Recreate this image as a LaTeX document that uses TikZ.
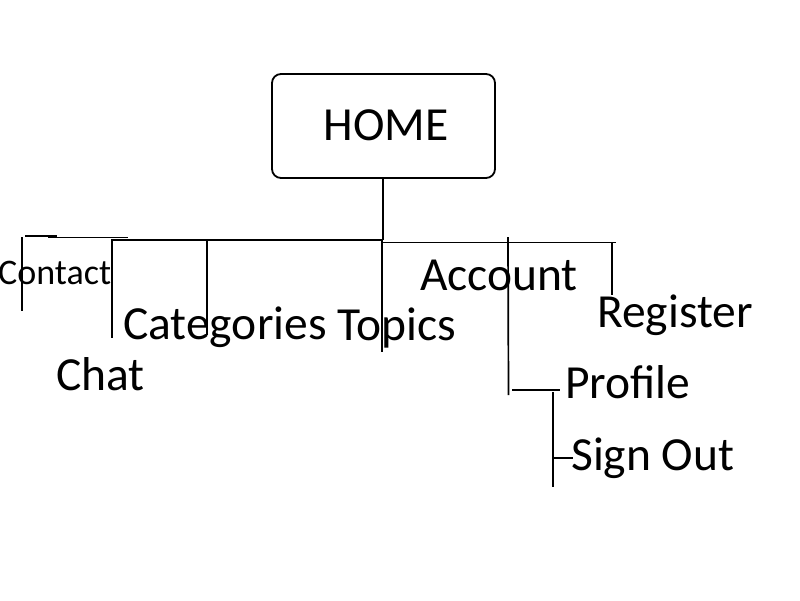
\documentclass[tikz,border=0pt]{standalone}
\usepackage{fontspec}
\setmainfont{Carlito}
\begin{document}
\begin{tikzpicture}[x=1pt,y=-1pt,
  ln/.style={line width=1.7pt,black},
  lbl/.style={anchor=base west,inner sep=0pt,font=\fontsize{47.5}{54}\selectfont},
  homebox/.style={draw,line width=1.8pt,rounded corners=9pt,minimum width=223pt,minimum height=104pt,inner sep=0pt}]
\useasboundingbox[fill=white] (0,0) rectangle (800,600);
% HOME
\node[homebox] (home) at (383.5,126) {};
\node[anchor=base,inner sep=0pt,font=\fontsize{47.5}{54}\selectfont] (hometxt) at (386,140) {HOME};
% labels
\node[lbl,font=\fontsize{36}{42}\selectfont] (contact) at (-2,284) {Contact};
\node[lbl] (chat) at (56,390) {Chat};
\node[lbl] (cat) at (123,339) {Categories};
\node[lbl] (topics) at (337,340) {Topics};
\node[lbl] (account) at (420,290) {Account};
\node[lbl] (register) at (597,327) {Register};
\node[lbl] (profile) at (565,398) {Profile};
\node[lbl] (signout) at (571,470) {Sign Out};
% junction coordinates
\coordinate (hb) at (383,178);
\coordinate (hj) at (383,240);
\coordinate (bl) at (112,240);
\coordinate (br) at (616,242.5);
\coordinate (hjr) at (383,242.5);
\coordinate (t1a) at (25,236);
\coordinate (t1b) at (57,236);
\coordinate (t2a) at (48,237.5);
\coordinate (t2b) at (128,237.5);
\coordinate (cta) at (22,237);
\coordinate (ctb) at (22,311);
\coordinate (cha) at (112,239);
\coordinate (chb) at (112,338);
\coordinate (caa) at (207,241);
\coordinate (cab) at (207,335);
\coordinate (toa) at (382,240);
\coordinate (tob) at (382,352);
\coordinate (aca) at (508,237);
\coordinate (acb) at (508.5,395);
\coordinate (rea) at (612,242);
\coordinate (reb) at (612,295);
\coordinate (pra) at (512,390);
\coordinate (prb) at (560,390);
\coordinate (soa) at (553,392);
\coordinate (sob) at (553,487);
\coordinate (sta) at (553,458);
\coordinate (stb) at (573,458);
% connectors
\draw[ln] (home.south -| hb) -- (hj);
\draw[ln] (bl) -- (hj);
\draw[ln] (hjr) -- (br);
\draw[ln] (t1a) -- (t1b);
\draw[ln] (t2a) -- (t2b);
\draw[ln] (cta) -- (ctb);
\draw[ln] (cha) -- (chb);
\draw[ln] (caa) -- (cab);
\draw[ln] (toa) -- (tob);
\draw[ln] (aca) -- (acb);
\draw[ln] (rea) -- (reb);
\draw[ln] (pra) -- (prb);
\draw[ln] (soa) -- (sob);
\draw[ln] (sta) -- (stb);
\end{tikzpicture}
\end{document}
